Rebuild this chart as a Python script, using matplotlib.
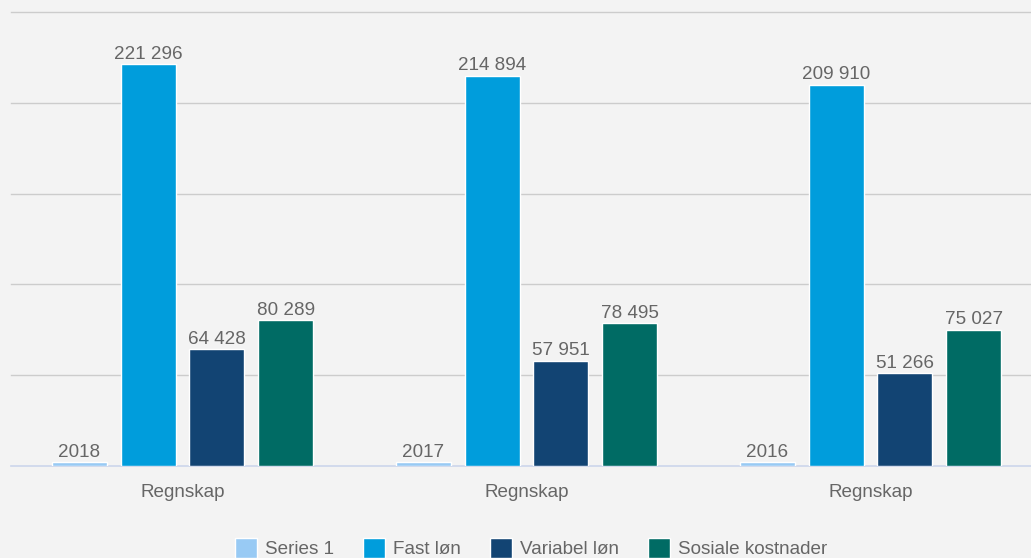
import numpy as np
import matplotlib
matplotlib.use('Agg')
import matplotlib.pyplot as plt

# chart data
categories = ['Regnskap', 'Regnskap', 'Regnskap']
series_names = ['Series 1', 'Fast løn', 'Variabel løn', 'Sosiale kostnader']
series_1 = [2018, 2017, 2016]
fast_lon = [221296, 214894, 209910]
variabel_lon = [64428, 57951, 51266]
sosiale_kostnader = [80289, 78495, 75027]
colors = ['#98caf4', '#009ddc', '#124473', '#006b64']

plt.rcParams['font.family'] = ['Liberation Sans', 'DejaVu Sans']
text_color = '#666666'
bg = '#f3f3f3'
fs = 13.6

fig = plt.figure(figsize=(10.31, 5.58), dpi=100, facecolor=bg)
W, H = 1031, 558
ax = fig.add_axes([10.5 / W, (H - 466) / H, 1032 / W, 454 / H])
ax.set_facecolor(bg)

x = np.arange(len(categories))
width = 0.16
offsets = [-0.3, -0.1, 0.1, 0.3]
all_series = [series_1, fast_lon, variabel_lon, sosiale_kostnader]

for i, (vals, name) in enumerate(zip(all_series, series_names)):
    bars = ax.bar(x + offsets[i], vals, width, color=colors[i], edgecolor='white',
                  linewidth=1, label=name, zorder=3)
    for b, v in zip(bars, vals):
        txt = str(v) if i == 0 else '{:,}'.format(v).replace(',', ' ')
        ax.annotate(txt, (b.get_x() + b.get_width() / 2, b.get_height()),
                    xytext=(0, 1), textcoords='offset points', ha='center',
                    va='bottom', fontsize=fs, color=text_color, zorder=4)

ax.set_xlim(-0.5, 2.5)
ax.set_ylim(0, 250000)
ax.set_yticks(np.arange(50000, 250001, 50000))
ax.set_yticklabels([])
ax.tick_params(axis='y', length=0)
ax.grid(axis='y', color='#cccccc', linewidth=1)
for gl in ax.get_ygridlines():
    gl.set_clip_on(False)
ax.set_axisbelow(True)

ax.set_xticks(x)
ax.set_xticklabels(categories, fontsize=fs, color=text_color)
ax.tick_params(axis='x', length=0, pad=13)

for s in ['top', 'right', 'left']:
    ax.spines[s].set_visible(False)
ax.spines['bottom'].set_color('#ccd6eb')
ax.spines['bottom'].set_linewidth(1.2)

leg = fig.legend(loc='center', bbox_to_anchor=(531 / W, 1 - 548 / H), ncol=4,
                 frameon=False, fontsize=fs, handlelength=1.18, handleheight=1.3,
                 handletextpad=0.4, columnspacing=1.55, borderaxespad=0)
for t in leg.get_texts():
    t.set_color(text_color)

fig.savefig('out.png', dpi=100, facecolor=bg)
